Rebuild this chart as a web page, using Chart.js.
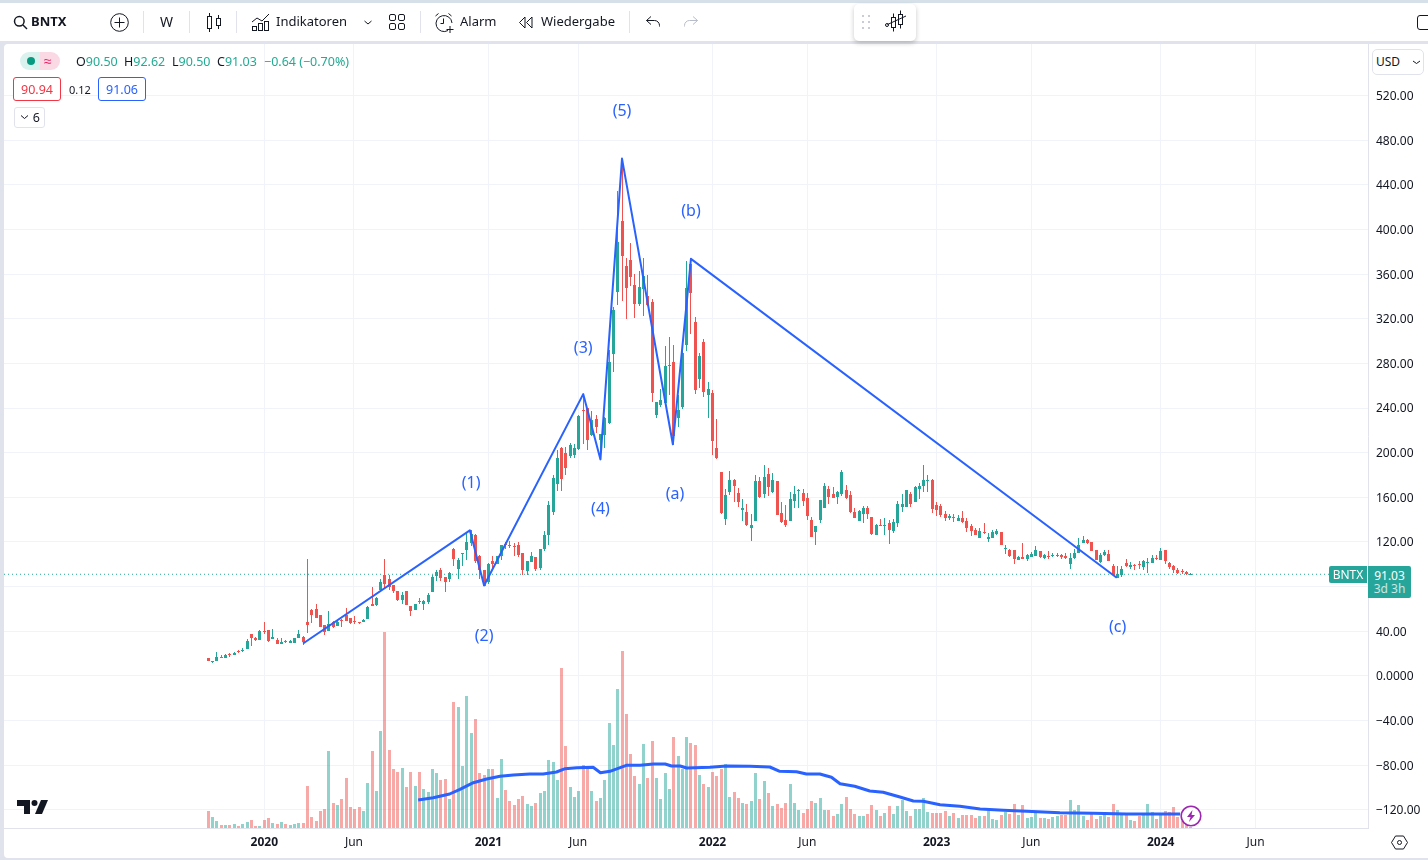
<!DOCTYPE html>
<html><head><meta charset="utf-8">
<script src="https://cdn.jsdelivr.net/npm/chart.js@4"></script>
<style>
html,body{margin:0;padding:0;width:1428px;height:860px;overflow:hidden;background:#e0e3eb;font-family:"Noto Sans",sans-serif;color:#131722}
#top{position:absolute;left:0;top:0;width:1428px;height:3px;background:#d6e0e8}
#bar{position:absolute;left:0;top:3px;width:1428px;height:38px;background:#fff}
#pane{position:absolute;left:4px;top:44px;width:1424px;height:814px;background:#fff;border-radius:4px 0 0 4px}
canvas{position:absolute;left:0;top:0}
.t{position:absolute;white-space:nowrap;line-height:1;z-index:3}
.sep{position:absolute;top:11px;width:1px;height:22px;background:#e0e3eb;z-index:3}
svg{position:absolute;z-index:3;overflow:visible}
.box{position:absolute;z-index:3;box-sizing:border-box;border-radius:3px;text-align:center;font-size:12px;background:#fff}
.g{color:#22ab94}
.o{top:55.5px;font-size:12.5px}
</style></head><body>
<div id="top"></div><div id="bar"></div><div id="pane"></div>
<canvas id="c" width="1428" height="860" style="width:1428px;height:860px"></canvas>

<svg style="left:13px;top:15px" width="15" height="15" viewBox="0 0 15 15" fill="none" stroke="#131722" stroke-width="1.5"><circle cx="6.3" cy="6.3" r="4.8"/><path d="M10 10l4 4"/></svg>
<div class="t" style="left:31px;top:15px;font-size:13px;font-weight:700">BNTX</div>
<svg style="left:110px;top:13px" width="19" height="19" fill="none" stroke="#131722"><circle cx="9.5" cy="9.5" r="8.8"/><path d="M9.5 4.5v10M4.5 9.500h10"/></svg>
<div class="sep" style="left:143px"></div>
<div class="t" style="left:160px;top:15px;font-size:14px">W</div>
<div class="sep" style="left:189px"></div>
<svg style="left:206px;top:12px" width="16" height="21" fill="none" stroke="#131722"><rect x="1.5" y="4.5" width="4" height="12"/><path d="M3.5 1v3.5M3.5 16.5V20"/><rect x="10.5" y="6.5" width="4" height="7"/><path d="M12.5 3v3.5M12.5 13.5V17"/></svg>
<div class="sep" style="left:236px"></div>
<svg style="left:251px;top:13px" width="20" height="19" fill="none" stroke="#131722"><path d="M1 9l5-4 5 3 7-7"/><rect x="1.5" y="13.5" width="4" height="4"/><rect x="7.5" y="10.5" width="4" height="7"/><rect x="13.5" y="8.5" width="4" height="9"/></svg>
<div class="t" style="left:276px;top:15px;font-size:13px">Indikatoren</div>
<svg style="left:363px;top:20px" width="10" height="6" fill="none" stroke="#131722"><path d="M1.5 1l3.5 3 3.5-3"/></svg>
<svg style="left:389px;top:14px" width="17" height="17" fill="none" stroke="#131722"><rect x=".5" y=".5" width="6" height="6" rx="1.5"/><rect x="9.5" y=".5" width="6" height="6" rx="1.5"/><rect x=".5" y="9.5" width="6" height="6" rx="1.5"/><rect x="9.5" y="9.5" width="6" height="6" rx="1.5"/></svg>
<div class="sep" style="left:420px"></div>
<svg style="left:434px;top:12px" width="21" height="21" fill="none" stroke="#131722"><path d="M14 18.5A8 8 0 1 1 18 11"/><path d="M9.5 6.5v5h-3M1.5 4l3-2.5M14.5 1.5l3 2.5M16 14v7M12.5 17.5h7"/></svg>
<div class="t" style="left:460px;top:15px;font-size:13px">Alarm</div>
<svg style="left:518px;top:16px" width="16" height="13" fill="none" stroke="#131722"><path d="M7 1L1.5 6.5 7 12zM14 1L8.5 6.5 14 12z"/></svg>
<div class="t" style="left:541px;top:15px;font-size:13px">Wiedergabe</div>
<div class="sep" style="left:629px"></div>
<svg style="left:645px;top:15px" width="16" height="13" fill="none" stroke="#131722"><path d="M6 1.5L1.5 5.5 6 9.5M1.5 5.5h8a5 5 0 0 1 5 5v1"/></svg>
<svg style="left:683px;top:15px" width="16" height="13" fill="none" stroke="#b8bcc8"><path d="M10 1.5l4.5 4-4.5 4M14.5 5.5h-8a5 5 0 0 0-5 5v1"/></svg>
<div style="position:absolute;left:854px;top:4px;width:62px;height:37px;background:#fff;border-radius:5px;box-shadow:0 2px 5px rgba(0,0,0,.22);z-index:2"></div>
<svg style="left:862px;top:15px" width="9" height="15" fill="#c9ccd6"><rect width="2" height="2"/><rect x="6" width="2" height="2"/><rect y="6" width="2" height="2"/><rect x="6" y="6" width="2" height="2"/><rect y="12" width="2" height="2"/><rect x="6" y="12" width="2" height="2"/></svg>
<svg style="left:885px;top:10px" width="23" height="23" fill="none" stroke="#131722"><rect x="6.5" y="7.5" width="4" height="10"/><path d="M8.5 3.5v4M8.500 17.5v4"/><rect x="13.5" y="4.5" width="4" height="10"/><path d="M15.5 .5v4M15.5 14.5v4M21 6L2.5 14.5"/><circle cx="2" cy="15" r="1.5"/></svg>
<div style="position:absolute;left:1417px;top:15px;width:14px;height:15px;border:1.5px solid #131722;border-radius:3px;box-sizing:border-box;z-index:3"></div>

<div style="position:absolute;left:20px;top:52px;width:20px;height:18px;background:#daf2ee;border-radius:9px 0 0 9px;z-index:3"></div>
<div style="position:absolute;left:40px;top:52px;width:20px;height:18px;background:#fbd9e4;border-radius:0 9px 9px 0;z-index:3"></div>
<div style="position:absolute;left:27px;top:57px;width:8px;height:8px;background:#089981;border-radius:50%;z-index:3"></div>
<div class="t" style="left:44px;top:54px;font-size:14px;color:#e91e63">≈</div>
<div class="t o" style="left:76px">O<span class="g">90.50</span></div>
<div class="t o" style="left:124px">H<span class="g">92.62</span></div>
<div class="t o" style="left:172px">L<span class="g">90.50</span></div>
<div class="t o" style="left:217px">C<span class="g">91.03</span></div>
<div class="t o g" style="left:264px">−0.64 (−0.70%)</div>
<div class="box" style="left:13px;top:77px;width:48px;height:24px;border:1px solid #f23645;color:#f23645;line-height:23px;font-size:12.5px">90.94</div>
<div class="t" style="left:69px;top:84px;font-size:11px">0.12</div>
<div class="box" style="left:98px;top:77px;width:48px;height:24px;border:1px solid #2962ff;color:#2962ff;line-height:23px;font-size:12.5px">91.06</div>
<div class="box" style="left:14px;top:107px;width:31px;height:21px;border:1px solid #e0e3eb;line-height:20px;text-align:right;padding-right:4px;font-size:12.5px">6</div>
<svg style="left:20px;top:115px" width="9" height="5" fill="none" stroke="#131722"><path d="M1 .5l3.500 3 3.500-3"/></svg>

<div class="box" style="left:1372px;top:49px;width:52px;height:26px;border:1px solid #e0e3eb;border-radius:5px;line-height:24px;text-align:left;padding-left:3px">USD</div>
<svg style="left:1412px;top:60px" width="9" height="5" fill="none" stroke="#131722"><path d="M1 1l3.5 2.5L8 1"/></svg>

<div class="box" style="left:1329px;top:566px;width:38px;height:17px;background:#26a69a;color:#fff;line-height:17px;border-radius:2px 0 0 2px">BNTX</div>
<div class="box" style="left:1368px;top:566px;width:43px;height:32px;background:#26a69a;color:#fff;border-radius:0 2px 2px 0;padding-top:3px;line-height:13px">91.03<br><span style="opacity:.75">3d 3h</span></div>

<svg style="left:17px;top:800px" width="31" height="15" viewBox="0 0 31 15" fill="#131722"><path d="M0 0h13v14H7V6H0z"/><circle cx="17.5" cy="3" r="3"/><path d="M24 0h7l-6 14h-7z"/></svg>
<svg style="left:1180px;top:805px" width="22" height="22" fill="#fff" stroke="#9c27b0" stroke-width="1.6"><circle cx="11" cy="11" r="9.8"/><path d="M12.5 5L7 12h3.5L9 17l6-7h-3.5z" fill="#9c27b0" stroke="none"/></svg>
<svg style="left:1391px;top:835px" width="17" height="15" fill="none" stroke="#131722"><path d="M4.5 1h8l4 6.5-4 6.5h-8L.5 7.500z"/><circle cx="8.500" cy="7.500" r="2"/></svg>

<script>
const weekIndex = Array.from({length: 229}, (_, k) => k);
const opens = [16.1,12.8,13.7,16.4,15.8,19.4,18.5,22.1,22.1,23.9,
37.7,34.1,32,39.5,40.7,32.9,32.6,28.4,30.8,29.6,
29.3,33.8,34.7,48.7,58.6,59.5,54.7,46,40.1,48.4,
44.5,49.9,54.4,52.3,49.6,48.4,48.1,50.8,64.6,63.7,
76.9,90.6,87,81.6,76.3,67.6,76.3,62.2,58.6,67,
64.3,65.8,74.8,89.7,95.1,88.2,86.4,113.4,95.4,109.2,
112.5,119.3,125.9,107.1,94.5,84,102.6,99.9,107.7,117.9,
117,116.7,117,110.1,93.9,102,106.5,96.3,114,126,
146.6,171.7,204,200,197,198,203.1,238.1,239.9,215.7,
230,211.8,215.7,226.8,288.4,344.3,407.8,367.4,372.8,350,
333.3,346.7,340.4,335.1,233.6,242.6,244.4,277.6,281.2,230.9,
240.8,296.5,369.2,317.1,265.9,299.2,251.6,253.4,204,182.5,
140.3,164.5,175.3,163.7,148.4,146.6,132.2,138.8,174.4,162.8,
180.7,164.5,174.4,145.7,139.4,138.5,156.5,165.4,163.7,159.2,
139.4,128.6,139.4,150.2,167.2,162.8,160,162.8,166.3,161.9,
146.6,138.5,144.8,150.2,142.1,126,134.9,134,136.7,129.5,
136.7,151.1,151.1,162.8,155.6,167.2,169.9,174.4,175.3,152.9,
152,144.8,141.2,142.1,138.5,141.2,138.5,134,130.4,123.2,
128.6,122.3,123.2,126.8,128.6,113.3,112.4,112.4,103.5,106.2,
104.4,106.2,107.1,111.5,105.3,107.1,107.1,107.1,108,107.1,
99.9,105.3,109.8,118.7,121.4,119.6,112.4,101.7,108,108.9,
98.1,87.3,90,100.8,97.2,99,99.9,97.2,100.8,100.8,
105.3,103.5,112.4,100.8,98.1,94.5,93.6,92.7,90.5];
const closes = [13.1,13.7,17.3,15.8,18.5,18.8,20.9,21.5,23.6,31.7,
33.8,32.3,39.8,38.9,31.7,34.7,28.4,30.8,30.2,31.7,
34.1,37.7,30.2,45.2,54.4,51.7,44.2,39.2,46.6,44.2,
48.7,49.3,49.6,47.8,48.7,47.8,50.5,61.6,62.2,70,
84.3,82.5,79.6,75.7,67.6,72.7,63.4,57.7,64.6,66.1,
66.7,72.4,88.2,93.3,87.6,84,91.8,104.7,103.5,110.1,
119.6,126.8,102.6,95.1,80.8,99.9,100.5,107.7,117,117,
116.1,115.8,108,94.5,102.6,107.1,96,113.4,126,153,
177,195,176,186,206.7,204,232.7,237.5,211.2,229.7,
223.2,216.6,230.9,281.2,327.9,388.9,376.4,347.6,357.8,333.3,
348.5,358.4,332.4,253.7,245.3,247.1,277.6,278.5,214.8,238.1,
289.3,347.6,343.1,256.1,286.6,254.3,257,210.3,195,146.3,
161.9,175.9,170.2,155.6,150.2,134.9,134.9,174.4,160,178,
169,175.3,143.9,137.6,134.9,158.3,162.8,166.6,156.5,143,
124.2,134,157.4,169.9,160,159.2,164.5,182.5,159.2,146.6,
141.2,147.5,150.2,144.8,126.9,134.9,134,134.9,130.4,137.6,
153.8,153.8,166.3,153.8,169,169.9,175.3,175.3,149.3,148.4,
143.9,141.2,143,141.2,141.2,137.6,132.2,129.5,125.9,129.5,
127.7,124.1,128.6,129.5,116.9,114.2,107.1,104.4,106.2,104.4,
108,108.9,112.4,106.2,108,106.2,108,108,106.2,105.3,
105.3,109.8,116.9,121.4,118.7,111.5,103.5,108,110.6,102.6,
90,90.9,95.4,98.1,99,98.1,99,102.6,101.7,105.3,
104.4,111.5,102.6,97.2,94.5,91.8,92.7,91.4,91.03];
const highs = [16.1,13.7,21.8,18.8,19.7,20.3,21.8,23,24.8,33.2,
37.7,35,40.7,48.7,40.7,41.9,34.1,33.8,32,32.6,
34.1,40.7,35.9,104.4,59.5,64,54.7,46,57.7,49.6,
49.6,51.1,60.4,52.3,53.5,48.4,51.4,62.2,79.3,70.9,
86.7,104.4,90,81.6,76.3,74.8,76.3,62.2,64.6,69.4,
68.2,74.2,90,95.1,96.9,88.2,92.7,114.3,105.6,110.1,
128,130.4,126.8,108,94.5,101.1,107.1,107.7,117.6,120,
120.8,119.3,120,110.1,102.6,111,106.5,114,130,157,
180,202,205,205,208.5,208,234.2,253,240,237.2,
233.6,217,232.1,292,330.3,434.1,463.4,374.6,388,360.2,
362.9,374.6,359.3,337.8,245.6,257,295.6,303.6,296.5,251.6,
292,371.9,374.3,321.3,289.3,301.9,263.3,256.1,230,182.5,
167.2,183.4,176.2,168.1,158.3,153.8,144.8,179.8,178,188.8,
186.1,181.6,174.4,155.6,152.9,164.5,169.9,167.2,167.2,163.7,
142.1,134,157.4,172.6,169.9,169,165.4,184.3,170.8,165.4,
150.2,148.4,152,152,142.1,135.8,140.3,141.8,139.4,140.3,
156.5,162.8,166.3,164.5,169.9,172.6,188.8,179.8,176.2,155.6,
153.8,147.5,144.8,144.8,143.9,147.5,141.2,135.8,132.2,132.2,
136.7,127.7,130.4,131.3,128.6,116.9,113.3,112.4,107.1,118.7,
108.9,110.6,116,111.5,108.9,111.5,109.8,109.8,108.9,109.8,
109.8,113.3,123.2,125,122.3,119.6,112.4,109.8,112.4,112.4,
99.9,98.1,98.1,104.4,101.7,99.9,102.6,103.5,105.3,108,
108,114.2,112.4,101.7,99,96.3,95.4,93.6,92.62];
const lows = [13.1,11.9,13.7,15.8,15.8,17.3,18.5,20.3,21.2,23.9,
27.2,31.1,32,37.7,30.2,32.9,28.4,28.4,29.3,29.6,
29.3,33.8,27.8,38.3,47.2,51.7,43.6,36.2,40.1,43,
44.5,44.2,49.6,46.3,46.6,46.3,48.1,50.8,62.2,62.8,
74.8,78,77.2,74.2,66.7,64,63.4,54.1,58.6,64.6,
58.6,64.6,74.8,84.6,84.9,74.8,84,98.1,86.4,98.4,
103.5,116.1,101.1,87,80.2,82.5,96,99.9,103.5,114,
114.6,107.1,106.5,90,90.3,102,93.9,95,112,117,
144,166,166,180,195,195,202,208.2,202,214.8,
217.8,200,204.3,226,272.5,332.4,336.3,319.8,349.4,321,
331.5,322.5,331.5,245,231.5,241.1,244.1,251.6,206.7,223.2,
239,291.1,306.3,252.5,257.9,249.8,230.9,197.8,194.2,145.4,
134.9,161.9,155.6,151.1,138.5,134,120.6,138.8,159.2,159.2,
161,163.7,143.9,136.7,133.1,138.5,150.2,150.2,152,139.4,
124.2,117,136.7,150.2,153.8,159.2,153.8,161,158.3,145.7,
141.2,138.5,136.7,140.3,126,126,134,126,117.9,127.7,
133.1,146.6,151.1,151.1,155.6,158.3,164.5,164.5,145.7,143,
142.1,138.5,139.4,137.6,138.5,136.7,128.6,125,125.9,123.2,
126.8,119.6,123.2,125.9,116.9,108.9,106.2,99.9,103.5,104.4,
102.6,106.2,107.1,105.3,104.4,104.4,106.2,106.2,104.4,104.4,
95.4,104.4,109.8,118.7,117.8,111.5,103.5,100.8,107.1,102.6,
90,87.3,88.2,97.2,95.4,94.5,95.4,94.5,91.8,100.8,
103.5,103.5,99.9,95.4,91.8,90.9,90.9,90.6,90.5];
const volumes = [17,11,7,3,3,3,4,2,4,6,
8,2,2,8,10,5,4,6,4,3,
4,5,5,42,11,7,17,19,77,25,
23,29,50,21,19,21,17,45,77,37,
97,196,78,59,56,60,41,56,42,56,
39,36,59,55,48,49,29,126,121,62,
132,95,109,55,53,59,59,30,69,38,
27,23,29,32,24,22,25,35,37,68,
66,48,160,82,41,31,37,63,59,37,
27,30,48,105,83,139,177,114,74,52,
44,84,50,87,50,29,55,39,91,72,
59,91,85,83,53,44,41,56,52,59,
64,31,36,30,25,24,27,55,29,47,
35,22,24,20,25,44,25,18,15,19,
27,25,30,18,18,12,14,24,31,19,
14,12,12,14,23,18,12,15,22,14,
22,28,17,12,19,19,30,16,15,15,
15,17,12,15,10,13,13,13,10,12,
12,17,9,8,13,16,14,24,13,23,
10,11,15,10,10,9,11,12,13,13,
28,18,23,12,8,14,9,12,14,11,
24,18,14,13,8,7,12,14,24,16,
9,14,17,16,21,11,7,4,1];
const volMaIdx = [48.7,52.2,56,58.4,61.5,64.6,67.7,70.8,74.6,77.7,80.8,82.8,85.5,89.3,91,93.2,95.1,97,100.2,103.3,106,107.5,109.5,111,116.4,120.3,125.7,130.3,132.6,136.5,138.8,141.9,144.6,146.6,150,153.5,156.6,160.5,163.6,165.9,169.8,174.4,179.1,184.5,189.9,197.6,205.3,213.1,220.8,225.5];
const volMaVal = [28,30.3,34,38.7,45.3,49,51.7,53,54,54,56,59.3,60.3,60.7,55.3,56.7,59.7,62.7,62.7,64,64,62,62,60,60.7,62,61.7,61,56.7,56.3,54,54,50.7,44.3,41.7,37,35.7,31,27,26.7,23.3,21.7,19,17.7,16.7,15.3,14.7,14,14,14];
const waveIdx = [22,60.7,64,87,91,96,107.8,112,210.8];
const wavePrice = [29,130.4,81,252.5,194,463.5,207.6,373.7,88];
const waveLabels = ["(1)","(2)","(3)","(4)","(5)","(a)","(b)","(c)"];
const waveLabelIdx = [61,64,87,91,96,108.3,112,211];
const waveLabelPrice = [172.6,35.3,293.8,149.3,505.6,162.7,415.9,43.3];
const priceTicks = [-120,-80,-40,0,40,80,120,160,200,240,280,320,360,400,440,480,520];
const timeTickIdx = [13,33.8,65,85.8,117,139,169,191,221,243];
const timeTickLabels = ["2020","Jun","2021","Jun","2022","Jun","2023","Jun","2024","Jun"];
const lastClose = 91.03;
const xMin = -47.4, xMax = 269.1, priceMin = -136.3, priceMax = 566.2, volMax = 784;

const UP = '#26a69a', DOWN = '#ef5350', BLUE = '#2962ff', GRID = '#f0f3fa', LINE = '#e0e3eb', FONT = '"Noto Sans", sans-serif';
const isUp = i => closes[i] >= opens[i];
const colors = weekIndex.map(i => isUp(i) ? UP : DOWN);
const volColors = weekIndex.map(i => isUp(i) ? 'rgba(38,166,154,.5)' : 'rgba(239,83,80,.5)');

const crispBars = {
  id: 'crispBars',
  beforeDatasetsDraw(chart) {
    chart.data.datasets.forEach((ds, k) => {
      if (ds.type !== 'bar') return;
      chart.getDatasetMeta(k).data.forEach(el => {
        el.x = Math.floor(el.x) + 0.5;
        el.y = Math.round(el.y);
        el.base = Math.round(el.base);
        if (el.y === el.base) el.base = el.y + 1;
      });
    });
  }
};

const waveText = {
  id: 'waveText',
  afterDatasetsDraw(chart) {
    const {ctx, scales: {x, y}} = chart;
    ctx.save();
    ctx.font = '16px ' + FONT;
    ctx.fillStyle = BLUE;
    ctx.textAlign = 'center';
    ctx.textBaseline = 'middle';
    waveLabels.forEach((s, k) => ctx.fillText(s, x.getPixelForValue(waveLabelIdx[k]), y.getPixelForValue(waveLabelPrice[k])));
    ctx.restore();
  }
};

new Chart(document.getElementById('c'), {
  type: 'bar',
  plugins: [crispBars, waveText],
  data: {datasets: [
    {type:'line', order:7, data:[{x:xMin,y:lastClose},{x:xMax,y:lastClose}], borderColor:UP, borderWidth:1, borderDash:[1,3], pointRadius:0, yAxisID:'y'},
    {type:'bar', order:6, grouped:false, inflateAmount:0, data:weekIndex.map(i=>({x:i,y:volumes[i]})), backgroundColor:volColors, barThickness:3, yAxisID:'v'},
    {type:'line', order:5, data:volMaIdx.map((v,k)=>({x:v,y:volMaVal[k]})), borderColor:BLUE, borderWidth:3, borderJoinStyle:'round', pointRadius:0, yAxisID:'v'},
    {type:'bar', order:4, grouped:false, inflateAmount:0, data:weekIndex.map(i=>({x:i,y:[lows[i],highs[i]]})), backgroundColor:colors, barThickness:1, yAxisID:'y'},
    {type:'bar', order:3, grouped:false, inflateAmount:0, data:weekIndex.map(i=>({x:i,y:[opens[i],closes[i]]})), backgroundColor:colors, barThickness:3, minBarLength:1, yAxisID:'y'},
    {type:'line', order:2, data:waveIdx.map((v,k)=>({x:v,y:wavePrice[k]})), borderColor:BLUE, borderWidth:2, borderJoinStyle:'round', pointRadius:0, yAxisID:'y'}
  ]},
  options: {
    responsive:false, animation:false, devicePixelRatio:1,
    events:[],
    layout:{padding:{left:4,top:44,right:0,bottom:0}},
    plugins:{legend:{display:false},tooltip:{enabled:false}},
    scales:{
      x:{type:'linear',position:'bottom',min:xMin,max:xMax,offset:false,
        grid:{offset:false,color:GRID,drawTicks:false},
        border:{color:LINE},
        afterBuildTicks(s){s.ticks=timeTickIdx.map(v=>({value:v}));},
        afterFit(s){s.height=32;},
        ticks:{autoSkip:false,maxRotation:0,padding:7,color:'#131722',
          font:c=>({family:FONT,size:12,weight:/^\d/.test(timeTickLabels[c.index]||'')?'bold':'normal'}),
          callback:(v,k)=>timeTickLabels[k]}},
      y:{type:'linear',position:'right',min:priceMin,max:priceMax,
        grid:{color:GRID,drawTicks:false},
        border:{color:LINE},
        afterBuildTicks(s){s.ticks=priceTicks.map(v=>({value:v}));},
        afterFit(s){s.width=60;},
        ticks:{padding:8,labelOffset:1,color:'#131722',align:'center',crossAlign:'near',font:{family:FONT,size:12},
          callback:v=>v===0?'0.0000':(v<0?'−':'')+Math.abs(v).toFixed(2)}},
      v:{type:'linear',display:false,min:0,max:volMax}
    }
  }
});
</script>
</body></html>
